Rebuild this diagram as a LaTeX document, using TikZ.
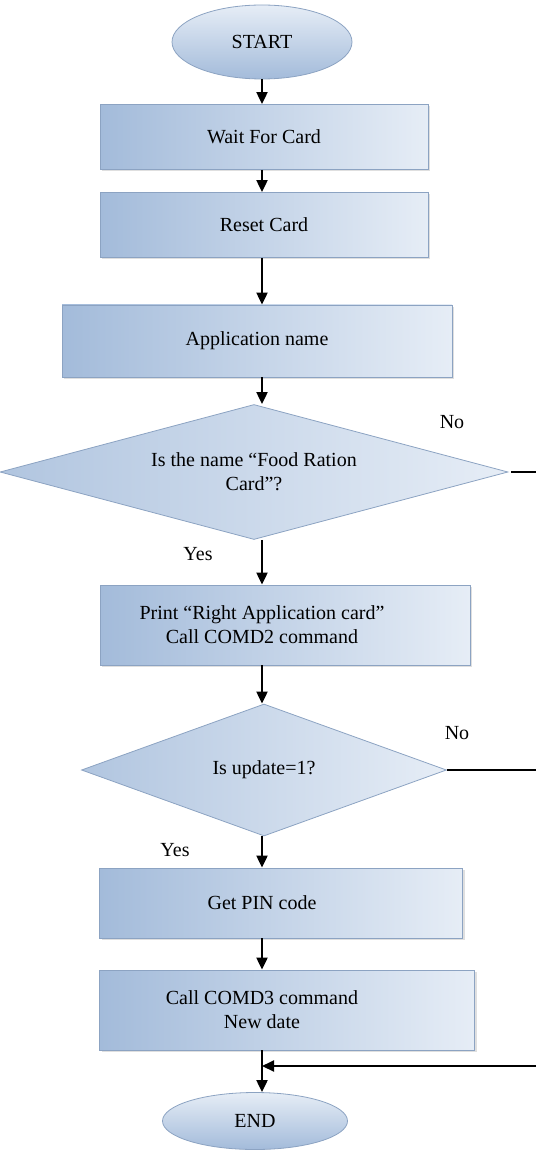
\documentclass[tikz,border=0pt]{standalone}
\usepackage{fontspec}
\setmainfont{Liberation Serif}
\usetikzlibrary{shapes.geometric,arrows.meta,shadows}
\definecolor{boxdark}{HTML}{A3BBDA}
\definecolor{boxlight}{HTML}{E6EDF6}
\definecolor{boxedge}{HTML}{8CA3C2}
\begin{document}
\begin{tikzpicture}
  [x=0.5pt,y=-0.5pt,font=\fontsize{10}{12}\selectfont,
   procbox/.style={rectangle,draw=boxedge,left color=boxdark,right color=boxlight,inner sep=0pt,
     drop shadow={opacity=0.25,shadow xshift=1pt,shadow yshift=-1pt}},
   termbox/.style={ellipse,draw=boxedge,top color=boxlight,bottom color=boxdark,inner sep=0pt},
   testbox/.style={diamond,draw=boxedge,left color=boxdark!85,right color=boxlight,inner sep=0pt,align=center},
   arr/.style={-{Triangle[length=6pt,width=5.5pt]},line width=1pt},
   link/.style={line width=1pt}]
  \useasboundingbox (0,0) rectangle (536,1160);
  \coordinate (axis) at (262,0);

  \node[termbox,minimum width=90pt,minimum height=37pt] (start) at (262,42) {START};
  \node[procbox,minimum width=164pt,minimum height=32.5pt] (wait) at (264,137) {Wait For Card};
  \node[procbox,minimum width=164pt,minimum height=32.5pt] (reset) at (264,225) {Reset Card};
  \node[procbox,minimum width=195pt,minimum height=36pt] (app) at (257,341) {Application name};
  \node[testbox,aspect=3.75,minimum width=254pt,minimum height=67.5pt] (q1) at (254,472)
    {Is the name ``Food Ration\\Card''?};
  \node[procbox,minimum width=185pt,minimum height=40pt] (print) at (285,625) {};
  \node (printtext) at (print -| axis) [align=center] {Print ``Right Application card''\\Call COMD2 command};
  \node[testbox,aspect=2.77,minimum width=182.5pt,minimum height=66pt] (q2) at (264,770) {Is update=1?};
  \node[procbox,minimum width=181.5pt,minimum height=35pt] (pin) at (281,903) {};
  \node (pintext) at (pin -| axis) {Get PIN code};
  \node[procbox,minimum width=187.5pt,minimum height=40pt] (comd3) at (287,1010) {};
  \node (comd3text) at (comd3 -| axis) [align=center] {Call COMD3 command\\New date};
  \node[termbox,minimum width=92.5pt,minimum height=28.5pt] (end) at (255,1121) {END};

  \node (no1) at (452,422) {No};
  \node (yes1) at (198,554) {Yes};
  \node (no2) at (457,733) {No};
  \node (yes2) at (175,850) {Yes};

  \draw[arr] (start.south -| axis) -- (wait.north -| axis);
  \draw[arr] (wait.south -| axis) -- (reset.north -| axis);
  \draw[arr] (reset.south -| axis) -- (app.north -| axis);
  \draw[arr] (app.south -| axis) -- (q1.north -| axis);
  \draw[arr] (q1.south -| axis) -- (print.north -| axis);
  \draw[arr] (print.south -| axis) -- (q2.north -| axis);
  \draw[arr] (q2.south -| axis) -- (pin.north -| axis);
  \draw[arr] (pin.south -| axis) -- (comd3.north -| axis);
  \draw[arr] (comd3.south -| axis) -- (end.north -| axis);

  \coordinate (out1) at (536,472);
  \coordinate (out2) at (536,770);
  \coordinate (join) at (536,1066);
  \draw[link] (q1.east) ++(3,0) -- (out1);
  \draw[link] (q2.east) -- (out2);
  \draw[arr] (join) -- (join -| axis);
\end{tikzpicture}
\end{document}
